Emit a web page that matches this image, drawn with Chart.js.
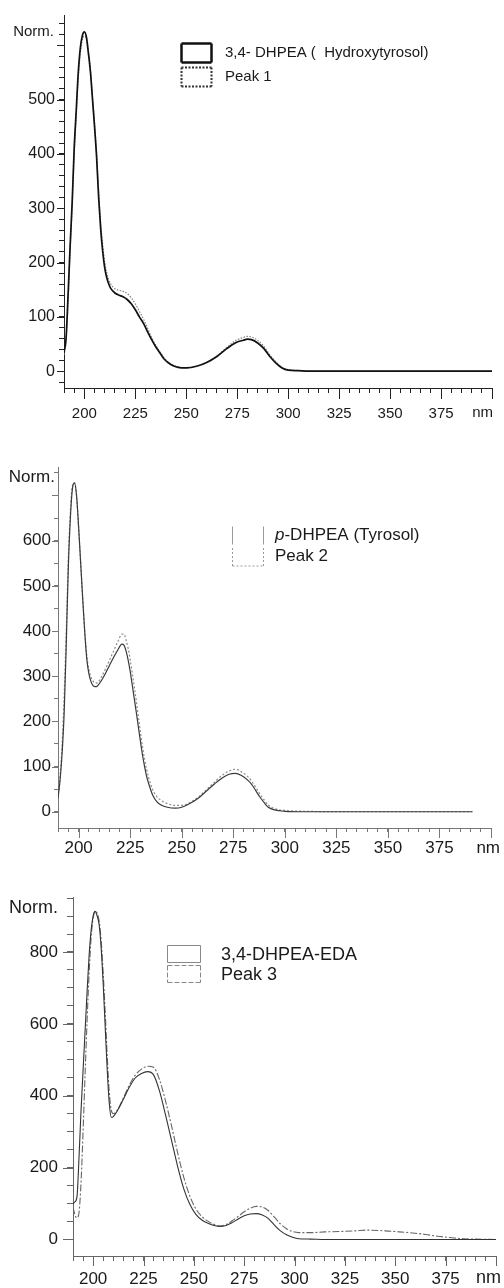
<!DOCTYPE html>
<html>
<head>
<meta charset="utf-8">
<script src="https://cdn.jsdelivr.net/npm/chart.js@4.4.1/dist/chart.umd.min.js"></script>
<style>
  html, body { margin: 0; padding: 0; background: #fff; }
  body { width: 504px; height: 1288px; position: relative; overflow: hidden; }
  canvas { position: absolute; left: 0; }
</style>
</head>
<body>
<canvas id="panel1" width="504" height="430" style="top:0px"></canvas>
<canvas id="panel2" width="504" height="430" style="top:430px"></canvas>
<canvas id="panel3" width="504" height="428" style="top:860px"></canvas>
<script>
// labelled wavelengths on every x axis
const nmLabels = [200, 225, 250, 275, 300, 325, 350, 375];

// panel 1 - hydroxytyrosol vs peak 1
const wl1 = [190,191,192,193,194,195,196,197,198,199,200,201,202,203,204,205,206,207,208,209,210,211,212,213,
  215,217,219,221,223,225,227,229,231,233,235,237,239,241,243,
  246,250,255,260,265,270,274,278,280,282,285,288,291,294,297,300,305,310,
  320,340,360,380,400];
const hydroxytyrosol = [35,60,140,230,310,410,480,550,595,618,625,615,585,550,500,450,394,320,262,220,190,172,160,152,
  144,140,137,132,124,113,100,88,73,58,45,34,23,16,11,
  7,6,9,16,27,42,52,57,59,58,52,42,27,15,6,2,1,0,
  0,0,0,0,0];
const peak1 = [30,55,125,220,305,400,470,540,585,610,617,612,588,555,505,455,400,330,272,232,200,181,168,160,
  152,149,147,143,135,124,110,96,79,62,48,36,25,17,12,
  8,6,9,16,28,44,56,62,64,63,57,46,30,17,7,3,1,0,
  0,0,0,0,0];
const norm1Labels = [0, 100, 200, 300, 400, 500];

// panel 2 - tyrosol vs peak 2
const wl2 = [190,191,192,193,194,195,196,197,198,199,200,201,202,203,204,205,206,207,208,209,
  211,213,215,217,219,221,
  222,223,224,225,226,227,228,229,230,231,232,233,234,235,236,
  238,240,243,247,250,253,258,262,266,270,273,276,279,282,284,286,288,290,292,295,300,310,
  330,350,370,391];
const tyrosol = [30,70,130,220,370,540,650,715,728,700,630,550,470,395,336,305,288,279,277,278,
  290,306,324,342,358,371,
  369,356,336,311,281,250,219,187,155,125,100,78,62,48,36,
  22,15,10,8,10,16,30,46,62,76,83,85,80,70,60,46,32,20,10,4,1,0,
  0,0,0,0];
const peak2 = [30,80,150,260,400,560,665,722,728,698,628,550,472,400,345,315,298,289,285,285,
  298,316,336,356,376,393,
  393,380,362,337,307,276,244,210,176,143,116,93,75,60,48,
  33,25,18,14,14,18,32,49,66,82,90,94,88,78,67,53,39,26,15,7,3,1,
  0,0,0,0];
const norm2Labels = [0, 100, 200, 300, 400, 500, 600];

// panel 3 - 3,4-DHPEA-EDA vs peak 3
const wl3 = [190,191,192,193,194,195,196,197,198,199,200,201,202,203,204,205,206,207,208,209,210,
  212,215,218,221,224,227,230,233,236,239,242,245,248,251,254,257,260,263,266,269,272,275,278,281,284,287,290,293,296,299,302,
  308,315,322,330,336,345,350,357,365,371,378,384,390,400];
const dhpeaEda = [100,105,120,230,360,470,580,690,790,860,900,913,900,875,810,710,590,470,380,340,342,
  358,390,424,450,462,467,458,412,345,274,202,141,98,70,54,45,39,36,39,47,57,66,71,72,68,58,40,24,13,6,2,
  1,0,0,0,0,0,0,0,0,0,0,0,0,0];
const peak3 = [90,68,60,75,160,300,460,610,740,840,895,913,908,885,830,740,630,510,410,360,350,
  360,394,430,458,474,482,479,444,384,314,240,173,121,85,64,51,42,38,42,52,64,77,87,92,90,80,62,43,30,22,19,
  19,21,22,24,26,24,22,19,14,9,5,2,1,0];
const norm3Labels = [0, 200, 400, 600, 800];

function tickList(min, max, step) {
  const out = [];
  for (let v = Math.ceil(min / step) * step; v <= max; v += step) out.push(v);
  return out;
}

// longer major ticks, "Norm." / "nm" captions and the boxed legend
const spectrumDecor = {
  id: 'spectrumDecor',
  afterDraw(chart, args, o) {
    const ctx = chart.ctx;
    const xs = chart.scales.x, ys = chart.scales.y;
    ctx.save();
    ctx.strokeStyle = o.axisColor;
    ctx.lineWidth = 1;
    ctx.beginPath();
    xs.ticks.forEach(t => {
      if (t.value % o.xMajor === 0) {
        const px = Math.round(xs.getPixelForValue(t.value)) + 0.5;
        ctx.moveTo(px, xs.top);
        ctx.lineTo(px, xs.top + o.xMajorLen);
      }
    });
    ys.ticks.forEach(t => {
      if (t.value % o.yMajor === 0) {
        const py = Math.round(ys.getPixelForValue(t.value)) + 0.5;
        ctx.moveTo(ys.right, py);
        ctx.lineTo(ys.right - o.yMajorLen, py);
      }
    });
    ctx.stroke();

    const family = 'Liberation Sans, Arial, sans-serif';
    ctx.fillStyle = '#1a1a1a';
    ctx.textBaseline = 'middle';
    ctx.font = o.fontSize + 'px ' + family;
    ctx.textAlign = 'right';
    ctx.fillText('Norm.', o.normX, o.normY);
    ctx.fillText('nm', o.nmX, o.nmY);

    ctx.textAlign = 'left';
    chart.data.datasets.forEach((ds, i) => {
      const st = o.boxes[i];
      const top = o.boxTops[i];
      const l = o.boxX + 0.5, r = o.boxX + o.boxW + 0.5;
      const t = top + 0.5, b = top + o.boxH + 0.5;
      const edges = st.edges || 'lrtb';
      ctx.strokeStyle = st.color;
      ctx.lineWidth = st.width;
      ctx.setLineDash(st.dash || []);
      ctx.beginPath();
      if (edges.includes('t')) { ctx.moveTo(l, t); ctx.lineTo(r, t); }
      if (edges.includes('b')) { ctx.moveTo(l, b); ctx.lineTo(r, b); }
      if (edges.includes('l')) { ctx.moveTo(l, t); ctx.lineTo(l, b); }
      if (edges.includes('r')) { ctx.moveTo(r, t); ctx.lineTo(r, b); }
      ctx.stroke();
      ctx.setLineDash([]);
      const ty = top + o.boxH / 2 + o.textShift;
      let tx = o.textX;
      let label = ds.label;
      if (o.italic && label.startsWith(o.italic)) {
        ctx.font = 'italic ' + o.fontSize + 'px ' + family;
        ctx.fillText(o.italic, tx, ty);
        tx += ctx.measureText(o.italic).width;
        label = label.slice(o.italic.length);
        ctx.font = o.fontSize + 'px ' + family;
      }
      ctx.fillText(label, tx, ty);
    });
    ctx.restore();
  }
};

function spectrum(id, o) {
  const canvas = document.getElementById(id);
  const family = 'Liberation Sans, Arial, sans-serif';
  return new Chart(canvas, {
    type: 'line',
    data: {
      datasets: o.series.map(s => ({
        label: s.label,
        data: s.values.map((v, i) => ({ x: o.wl[i], y: v })),
        borderColor: s.color,
        borderWidth: s.width,
        borderDash: s.dash || [],
        pointRadius: 0,
        cubicInterpolationMode: 'monotone',
        fill: false
      }))
    },
    options: {
      responsive: false,
      animation: false,
      events: [],
      layout: { padding: { top: o.area.top, right: canvas.width - o.area.right, left: 0, bottom: 0 } },
      scales: {
        x: {
          type: 'linear',
          min: 190,
          max: 400,
          afterBuildTicks: s => { s.ticks = tickList(190, 400, 5).map(v => ({ value: v })); },
          afterFit: s => { s.height = canvas.height - o.area.bottom; },
          border: { display: true, color: o.axisColor, width: 1 },
          grid: { drawOnChartArea: false, tickLength: o.xTick, color: o.axisColor },
          ticks: {
            autoSkip: false,
            maxRotation: 0,
            padding: o.xPad,
            color: '#1a1a1a',
            font: { family: family, size: o.xFont },
            callback: v => nmLabels.includes(v) ? String(v) : ''
          }
        },
        y: {
          type: 'linear',
          min: o.yMin,
          max: o.yMax,
          afterBuildTicks: s => { s.ticks = tickList(o.yMin, o.yMax, o.yStep).map(v => ({ value: v })); },
          afterFit: s => { s.width = o.area.left; },
          border: { display: true, color: o.axisColor, width: 1 },
          grid: { drawOnChartArea: false, tickLength: o.yTick, color: o.axisColor },
          ticks: {
            autoSkip: false,
            padding: o.yPad,
            color: '#1a1a1a',
            font: { family: family, size: o.yFont },
            callback: v => o.yLabels.includes(v) ? String(v) : ''
          }
        }
      },
      plugins: {
        legend: { display: false },
        tooltip: { enabled: false },
        spectrumDecor: o.decor
      }
    },
    plugins: [spectrumDecor]
  });
}

spectrum('panel1', {
  wl: wl1,
  series: [
    { label: '3,4- DHPEA (  Hydroxytyrosol)', values: hydroxytyrosol, color: '#111', width: 1.7 },
    { label: 'Peak 1', values: peak1, color: '#808080', width: 1.2, dash: [1.5, 1.5] }
  ],
  area: { left: 64, right: 493, top: 15, bottom: 388 },
  yMin: -31, yMax: 656, yStep: 20, yLabels: norm1Labels,
  xFont: 15, yFont: 16, axisColor: '#222',
  xTick: 5, xPad: 12, yTick: 5, yPad: 4,
  decor: {
    axisColor: '#222', xMajor: 25, xMajorLen: 11, yMajor: 100, yMajorLen: 7,
    fontSize: 15, normX: 54, normY: 32, nmX: 493, nmY: 413,
    boxX: 181, boxW: 30, boxH: 19, boxTops: [43, 67], textX: 225, textShift: 0,
    boxes: [
      { color: '#111', width: 2.5 },
      { color: '#333', width: 2, dash: [2, 1.5] }
    ]
  }
});

spectrum('panel2', {
  wl: wl2,
  series: [
    { label: 'p-DHPEA (Tyrosol)', values: tyrosol, color: '#3a3a3a', width: 1.2 },
    { label: 'Peak 2', values: peak2, color: '#8a8a8a', width: 1.2, dash: [2, 2] }
  ],
  area: { left: 58, right: 491, top: 37, bottom: 398 },
  yMin: -36, yMax: 763, yStep: 50, yLabels: norm2Labels,
  xFont: 17, yFont: 17, axisColor: '#777',
  xTick: 4, xPad: 6, yTick: 4, yPad: 3,
  decor: {
    axisColor: '#777', xMajor: 25, xMajorLen: 10, yMajor: 100, yMajorLen: 6,
    fontSize: 17, normX: 55, normY: 47, nmX: 500, nmY: 418,
    boxX: 232, boxW: 31, boxH: 18, boxTops: [96, 117.5], textX: 275, textShift: 0,
    italic: 'p',
    boxes: [
      { color: '#999', width: 1, edges: 'lr' },
      { color: '#999', width: 1, dash: [2, 2], edges: 'lrb' }
    ]
  }
});

spectrum('panel3', {
  wl: wl3,
  series: [
    { label: '3,4-DHPEA-EDA', values: dhpeaEda, color: '#333', width: 1.1 },
    { label: 'Peak 3', values: peak3, color: '#666', width: 1.1, dash: [7, 2, 2, 2] }
  ],
  area: { left: 73, right: 500, top: 37, bottom: 396 },
  yMin: -46, yMax: 953, yStep: 50, yLabels: norm3Labels,
  xFont: 17, yFont: 17, axisColor: '#666',
  xTick: 5, xPad: 8, yTick: 6, yPad: 9,
  decor: {
    axisColor: '#666', xMajor: 25, xMajorLen: 10, yMajor: 200, yMajorLen: 10,
    fontSize: 18, normX: 58, normY: 48, nmX: 501, nmY: 418,
    boxX: 167, boxW: 33, boxH: 17, boxTops: [85, 105], textX: 221, textShift: 2,
    boxes: [
      { color: '#888', width: 1 },
      { color: '#888', width: 1, dash: [5, 2] }
    ]
  }
});
</script>
</body>
</html>
